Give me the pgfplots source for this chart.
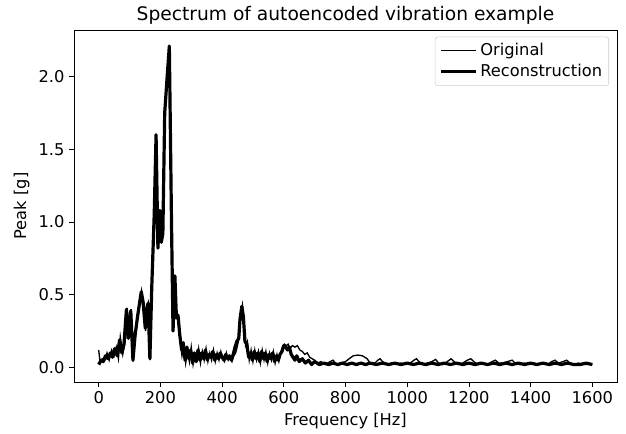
\documentclass[border=0pt]{standalone}
\usepackage{fontspec}
\setmainfont{DejaVu Sans}
\usepackage{pgfplots}
\pgfplotsset{compat=1.18}
\begin{document}
\begin{tikzpicture}
\begin{axis}[
 at={(0,0)}, anchor=south west,
 scale only axis, width=407.25pt, height=264pt,
 xmin=-80, xmax=1680, ymin=-0.1, ymax=2.32,
 xtick={0,200,400,600,800,1000,1200,1400,1600},
 ytick={0,0.5,1,1.5,2},
 /pgf/number format/assume math mode=true,
 xticklabel style={/pgf/number format/.cd, 1000 sep={}},
 yticklabel style={/pgf/number format/.cd, fixed, fixed zerofill, precision=1},
 tick align=outside, tick pos=left, major tick length=3.6pt,
 every tick/.style={black, line width=0.6pt},
 axis line style={line width=0.6pt},
 ticklabel style={font=\fontsize{12.2}{14}\selectfont},
 xlabel={Frequency [Hz]}, ylabel={Peak [g]},
 label style={font=\fontsize{12.2}{14}\selectfont},
 every axis title/.style={at={(0.5,1)}, anchor=base, yshift=6.8pt, font=\fontsize{14}{17}\selectfont},
 title={Spectrum of autoencoded vibration example},
 legend style={at={(1,1)}, anchor=north east, xshift=-6pt, yshift=-5pt, draw=black!20, rounded corners=2pt, font=\fontsize{12.2}{14}\selectfont, inner sep=3pt, row sep=1pt},
 legend cell align=left,
 legend image code/.code={\draw[#1] (0cm,0cm) -- (0.93cm,0cm);},
]
\addplot[black, line width=1.0pt] coordinates {
(0,0.12) (5,0.03) (12,0.06) (20,0.05) (27,0.10) (34,0.05) (42,0.12) (50,0.08) (57,0.14) (64,0.06)
(70,0.21) (78,0.09) (86,0.18) (92,0.41) (97,0.22) (105,0.40) (112,0.04) (120,0.24) (128,0.36) (134,0.47)
(139,0.53) (146,0.42) (152,0.25) (157,0.43) (161,0.45) (167,0.05) (173,0.60) (181,1.10) (186,1.58) (191,0.85)
(197,1.06) (203,0.89) (209,0.95) (215,1.80) (223,2.05) (230,2.20) (236,1.05) (241,0.27) (247,0.60) (252,0.36)
(258,0.32) (264,0.18) (270,0.08) (276,0.15) (282,0.03) (288,0.12) (294,0.04) (300,0.14) (306,0.02) (312,0.09)
(318,0.05) (324,0.13) (330,0.03) (336,0.11) (342,0.05) (348,0.13) (354,0.04) (360,0.10) (366,0.05) (372,0.12)
(378,0.04) (384,0.10) (390,0.05) (396,0.11) (402,0.06) (408,0.04) (414,0.10) (420,0.05) (426,0.07) (432,0.04)
(438,0.08) (444,0.10) (450,0.15) (456,0.22) (461,0.37) (466,0.43) (471,0.32) (476,0.15) (482,0.18) (488,0.05)
(494,0.12) (500,0.04) (506,0.12) (512,0.05) (518,0.11) (524,0.03) (530,0.12) (536,0.05) (542,0.11) (548,0.03)
(554,0.10) (560,0.05) (566,0.11) (572,0.03) (578,0.09) (584,0.04) (590,0.10) (596,0.14) (602,0.16) (608,0.15)
(614,0.16) (620,0.13) (628,0.15) (636,0.14) (644,0.15) (652,0.12) (660,0.11) (668,0.09) (676,0.10) (684,0.07)
(692,0.06) (700,0.05) (710,0.03) (720,0.04) (735,0.02) (750,0.04) (760,0.05) (770,0.02) (785,0.03) (800,0.04)
(812,0.06) (825,0.08) (840,0.085) (855,0.08) (870,0.06) (880,0.03) (895,0.03) (905,0.05) (912,0.06) (920,0.04)
(935,0.02) (950,0.03) (965,0.02) (980,0.03) (995,0.02) (1010,0.03) (1022,0.05) (1030,0.06) (1038,0.04) (1050,0.02)
(1065,0.03) (1080,0.04) (1092,0.055) (1102,0.03) (1115,0.02) (1130,0.04) (1142,0.06) (1152,0.04) (1165,0.02) (1180,0.03)
(1195,0.05) (1206,0.06) (1216,0.04) (1230,0.02) (1245,0.03) (1260,0.02) (1275,0.04) (1286,0.05) (1296,0.03) (1310,0.03)
(1325,0.04) (1340,0.05) (1350,0.03) (1365,0.02) (1380,0.03) (1395,0.02) (1410,0.03) (1425,0.02) (1440,0.03) (1455,0.02)
(1468,0.04) (1479,0.05) (1490,0.03) (1505,0.04) (1517,0.05) (1527,0.03) (1540,0.02) (1555,0.03) (1570,0.02) (1585,0.02)
(1600,0.02)
};
\addlegendentry{Original}
\addplot[black, line width=2.4pt, line join=round] coordinates {
(0,0.02) (8,0.05) (15,0.04) (22,0.08) (30,0.06) (38,0.10) (45,0.07) (52,0.13) (60,0.08) (68,0.19)
(75,0.10) (82,0.16) (90,0.40) (96,0.20) (104,0.39) (111,0.05) (118,0.22) (126,0.35) (133,0.45) (138,0.52)
(144,0.45) (151,0.27) (156,0.40) (160,0.44) (166,0.06) (172,0.55) (180,1.05) (186,1.60) (192,0.82) (198,1.08)
(203,0.86) (208,0.92) (214,1.75) (222,2.00) (229,2.21) (236,1.00) (241,0.25) (247,0.63) (252,0.34) (257,0.36)
(263,0.22) (269,0.12) (274,0.17) (280,0.05) (286,0.14) (292,0.06) (298,0.12) (304,0.03) (310,0.10) (316,0.04)
(322,0.12) (328,0.05) (334,0.10) (340,0.06) (346,0.12) (352,0.05) (358,0.09) (364,0.07) (370,0.11) (376,0.05)
(382,0.09) (388,0.06) (394,0.10) (400,0.07) (406,0.05) (412,0.09) (418,0.06) (424,0.08) (430,0.05) (436,0.09)
(442,0.14) (448,0.18) (454,0.20) (458,0.33) (464,0.42) (469,0.35) (474,0.18) (480,0.16) (486,0.07) (492,0.10)
(498,0.05) (504,0.11) (510,0.06) (516,0.10) (522,0.04) (528,0.11) (534,0.06) (540,0.10) (546,0.04) (552,0.09)
(558,0.06) (564,0.10) (570,0.04) (576,0.08) (582,0.05) (588,0.09) (594,0.11) (600,0.15) (606,0.14) (612,0.12)
(618,0.14) (624,0.09) (630,0.07) (636,0.05) (642,0.08) (650,0.04) (660,0.06) (670,0.03) (680,0.05) (690,0.02)
(700,0.04) (715,0.02) (730,0.03) (745,0.02) (760,0.03) (775,0.02) (790,0.03) (805,0.02) (820,0.03) (835,0.02)
(850,0.03) (865,0.02) (880,0.03) (900,0.02) (920,0.03) (940,0.02) (960,0.03) (980,0.02) (1000,0.03) (1020,0.02)
(1040,0.03) (1060,0.02) (1080,0.03) (1100,0.02) (1120,0.03) (1140,0.02) (1160,0.03) (1180,0.02) (1200,0.03) (1220,0.02)
(1240,0.03) (1260,0.02) (1280,0.03) (1300,0.02) (1320,0.03) (1340,0.02) (1360,0.03) (1380,0.02) (1400,0.03) (1420,0.02)
(1440,0.03) (1460,0.02) (1480,0.03) (1500,0.02) (1520,0.03) (1540,0.02) (1560,0.02) (1580,0.03) (1600,0.02)
};
\addlegendentry{Reconstruction}
\end{axis}
\pgfresetboundingbox
\path (-55.5pt,-39pt) rectangle (414pt,286.5pt);
\end{tikzpicture}
\end{document}
